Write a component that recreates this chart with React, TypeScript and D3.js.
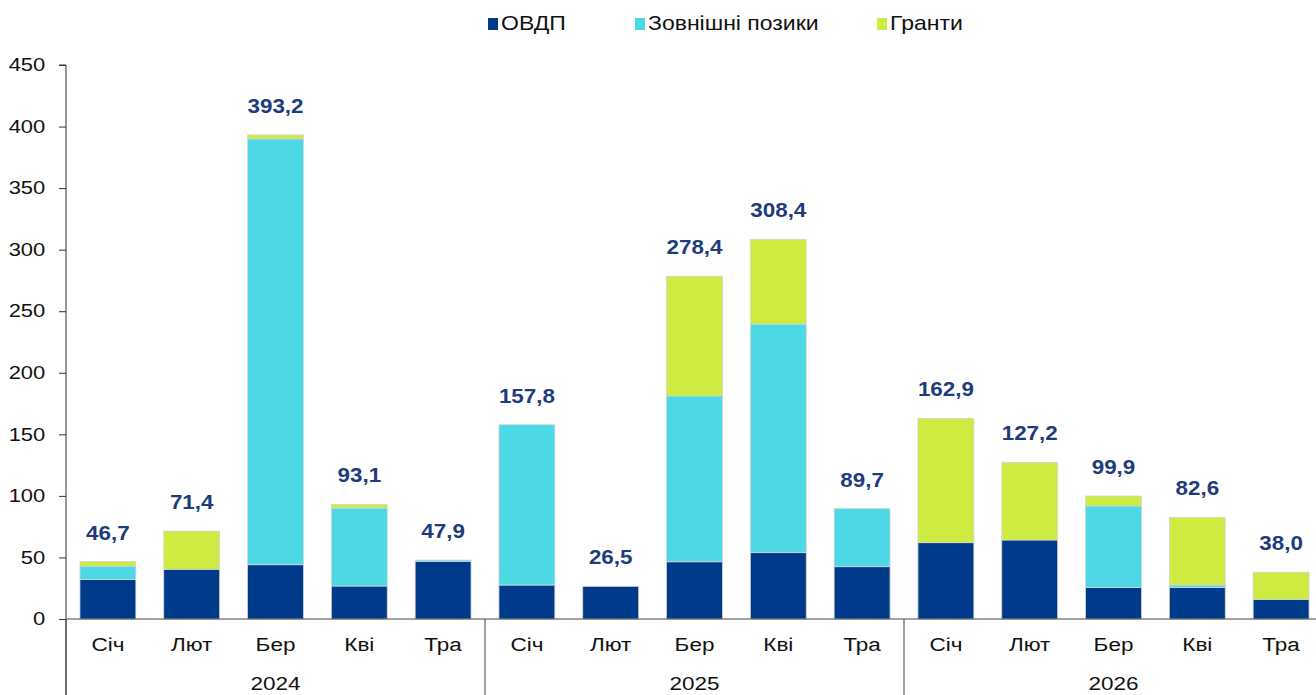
import { useEffect, useRef } from "react";
import * as d3 from "d3";

const years = ["2024", "2025", "2026"];
const months = ["Січ", "Лют", "Бер", "Кві", "Тра"];
const seriesNames = ["ОВДП", "Зовнішні позики", "Гранти"];

// values per year x month
const ovdp = [32.0, 40.4, 44.1, 26.8, 46.9, 27.6, 26.5, 46.5, 53.9, 42.5, 62.0, 64.2, 25.7, 25.7, 16.0];
const external = [11.0, 0, 345.9, 63.4, 1.0, 130.2, 0, 134.7, 185.7, 47.2, 0, 0, 66.1, 1.9, 0];
const grants = [3.7, 31.0, 3.2, 2.9, 0, 0, 0, 97.2, 68.8, 0, 100.9, 63.0, 8.1, 55.0, 22.0];
const totals = ["46,7", "71,4", "393,2", "93,1", "47,9", "157,8", "26,5", "278,4", "308,4", "89,7", "162,9", "127,2", "99,9", "82,6", "38,0"];
const yTicks = [0, 50, 100, 150, 200, 250, 300, 350, 400, 450];

const colors = ["#003A8A", "#4DD8E6", "#CDEB40"];

export default function App() {
  const ref = useRef<SVGSVGElement>(null);

  useEffect(() => {
    const width = 1316;
    const height = 695;
    const margin = { top: 65, bottom: 76, left: 66 };
    const plotRight = 1323; // last group runs past the picture edge
    const svg = d3.select(ref.current);
    svg.selectAll("*").remove();

    const font = "'Liberation Sans', Arial, sans-serif";

    const keys = years.flatMap((yr) => months.map((m) => `${yr}-${m}`));
    const rows = keys.map((k, i) => ({ key: k, ovdp: ovdp[i], external: external[i], grants: grants[i], total: totals[i] }));

    const x = d3.scaleBand().domain(keys).range([margin.left, plotRight]).paddingInner(0.333).paddingOuter(0.1665);
    const y = d3.scaleLinear().domain([0, 450]).range([height - margin.bottom, margin.top]);

    const stack = d3.stack<any>().keys(["ovdp", "external", "grants"]);
    const layers = stack(rows);

    svg
      .append("g")
      .selectAll("g")
      .data(layers)
      .join("g")
      .attr("fill", (_, i) => colors[i])
      .selectAll("rect")
      .data((d) => d.filter((s) => s[1] - s[0] > 0))
      .join("rect")
      .attr("x", (d) => x(d.data.key) ?? 0)
      .attr("y", (d) => y(d[1]))
      .attr("width", x.bandwidth())
      .attr("height", (d) => y(d[0]) - y(d[1]))
      .attr("stroke", "#d4d4d4")
      .attr("stroke-width", 0.8);

    // total labels
    svg
      .append("g")
      .selectAll("text")
      .data(rows)
      .join("text")
      .attr(
        "transform",
        (d) => `translate(${(x(d.key) ?? 0) + x.bandwidth() / 2},${y(d.ovdp + d.external + d.grants) - 22}) scale(1.12,1)`
      )
      .attr("text-anchor", "middle")
      .attr("font-family", font)
      .attr("font-size", 20)
      .attr("font-weight", "bold")
      .attr("fill", "#1E3C7C")
      .text((d) => d.total);

    // y axis
    const yAxis = svg
      .append("g")
      .attr("transform", `translate(${margin.left},0)`)
      .call(d3.axisLeft(y).tickValues(yTicks).tickSize(7).tickFormat(d3.format("d")));
    yAxis.select(".domain").attr("stroke", "#333").attr("d", `M-7,${y(450)}H0V${height}`);
    yAxis.selectAll(".tick line").attr("stroke", "#333");
    yAxis
      .selectAll(".tick text")
      .attr("x", -17)
      .attr("transform", "scale(1.22,1)")
      .attr("font-family", font)
      .attr("font-size", 18)
      .attr("fill", "#111");

    // category axis
    const xAxis = svg
      .append("g")
      .attr("transform", `translate(0,${y(0)})`)
      .call(d3.axisBottom(x).tickSize(0).tickPadding(19).tickFormat((d) => d.split("-")[1]));
    xAxis.select(".domain").attr("stroke", "#444").attr("d", `M${margin.left},0H${width}`);
    xAxis
      .selectAll(".tick text")
      .attr("transform", "scale(1.25,1)")
      .attr("font-family", font)
      .attr("font-size", 18)
      .attr("fill", "#111");

    const groupW = (plotRight - margin.left) / years.length;
    years.forEach((yr, i) => {
      const gx = margin.left + groupW * i;
      svg
        .append("line")
        .attr("x1", gx)
        .attr("x2", gx)
        .attr("y1", y(0))
        .attr("y2", height)
        .attr("stroke", "#444");
      svg
        .append("text")
        .attr("transform", `translate(${gx + groupW / 2},${height - 5}) scale(1.25,1)`)
        .attr("text-anchor", "middle")
        .attr("font-family", font)
        .attr("font-size", 18)
        .attr("fill", "#111")
        .text(yr);
    });

    // legend
    const legendX = [488, 635, 877];
    const legend = svg.append("g");
    seriesNames.forEach((name, i) => {
      legend
        .append("rect")
        .attr("x", legendX[i])
        .attr("y", 18)
        .attr("width", 10)
        .attr("height", 12)
        .attr("fill", colors[i]);
      legend
        .append("text")
        .attr("transform", `translate(${legendX[i] + 13},30) scale(1.15,1)`)
        .attr("font-family", font)
        .attr("font-size", 20)
        .attr("fill", "#111")
        .text(name);
    });
  }, []);

  return <svg ref={ref} width={1316} height={695} style={{ position: "absolute", left: 0, top: 0 }} />;
}
